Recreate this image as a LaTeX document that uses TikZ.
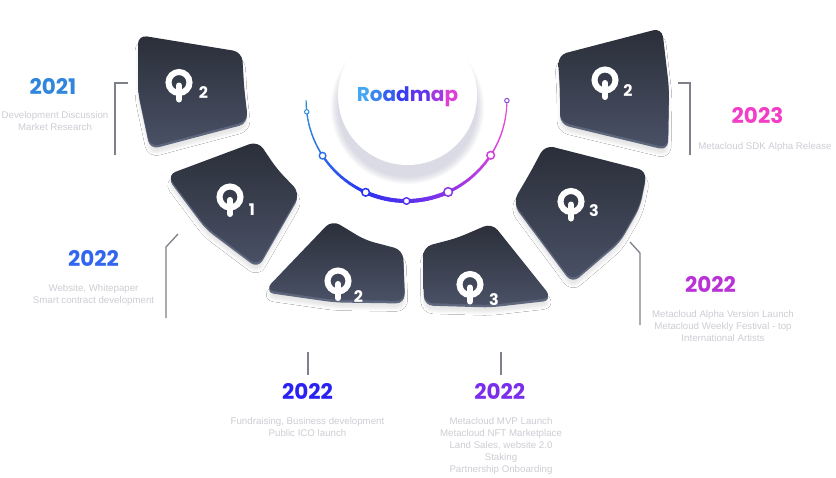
\documentclass[tikz,border=0pt]{standalone}
\usepackage{fontspec}
\setmainfont{Liberation Sans}
\newfontfamily\yearfont{Poppins}
\usetikzlibrary{shadows.blur}

\definecolor{tiletop}{HTML}{2A2E39}
\definecolor{tilemid}{HTML}{3A404F}
\definecolor{tilebot}{HTML}{4A5166}
\definecolor{rim}{HTML}{5E677D}
\definecolor{desctext}{HTML}{CDCED4}
\definecolor{brk}{HTML}{7E818A}
\definecolor{hubshade}{HTML}{6A6A9A}
\definecolor{yA}{HTML}{2F86DC}
\definecolor{yB}{HTML}{3366F0}
\definecolor{yC}{HTML}{2A22F2}
\definecolor{yD}{HTML}{7A2EEB}
\definecolor{yE}{HTML}{B932D6}
\definecolor{yF}{HTML}{F23DC6}
\definecolor{arcA}{HTML}{2B90D8}
\definecolor{arcB}{HTML}{2D6EEA}
\definecolor{arcC}{HTML}{2A34F0}
\definecolor{arcD}{HTML}{5530EE}
\definecolor{arcE}{HTML}{8A35E8}
\definecolor{arcF}{HTML}{D23FDA}
\definecolor{arcG}{HTML}{F04FCB}
\definecolor{arcEnd}{HTML}{8B47D6}
\definecolor{rmA}{HTML}{45A6F2}
\definecolor{rmB}{HTML}{3A86F0}
\definecolor{rmC}{HTML}{3560F0}
\definecolor{rmD}{HTML}{3A3CF0}
\definecolor{rmE}{HTML}{6034EC}
\definecolor{rmF}{HTML}{A23AE2}
\definecolor{rmG}{HTML}{DC40D6}

\tikzset{
  tileshape/.style={rounded corners=9pt, top color=tiletop, bottom color=tilebot, middle color=tilemid},
  tilerim/.style={rounded corners=9pt, fill=rim,
     blur shadow={shadow xshift=0pt, shadow yshift=-5pt, shadow blur radius=3pt, shadow opacity=10}},
  year/.style={font=\yearfont\bfseries\fontsize{21.5}{24}\selectfont, inner sep=0pt},
  desc/.style={font=\fontsize{9.7}{12}\selectfont, text=desctext, align=center, inner sep=0pt},
  brack/.style={draw=brk, line width=1.3pt},
  marker/.style={circle, fill=white, inner sep=0pt, draw},
  qdigit/.style={font=\yearfont\bfseries\fontsize{16}{18}\selectfont, text=white, inner sep=0pt},
}

\newcommand\tileA{(138,35) -- (138,91) -- (150,147) -- (248,121) -- (244,87) -- (242,52) -- cycle}
\newcommand\tileB{(167,175) -- (206,227) -- (258,266) -- (300,193) -- (277,169) -- (258,141) -- cycle}
\newcommand\tileC{(265,290) -- (335,300) -- (405,301) -- (403,250) -- (365,240) -- (332,220) -- cycle}
\newcommand\tileD{(424,303) -- (490,305) -- (552,298) -- (492,223) -- (457,238) -- (423,247) -- cycle}
\newcommand\tileE{(545,145) -- (647,171) -- (640,205) -- (620,240) -- (572,281) -- (513,202) -- (530,173) -- cycle}
\newcommand\tileF{(558,55) -- (662,28) -- (669,88) -- (668,148) -- (560,122) -- (560,88) -- cycle}

\newcommand\qglyph[6]{% ringx ringy digit digitx digity name
  \draw[white, line width=6pt] (#1,#2) circle (10.5pt);
  \draw[white, line width=6pt, line cap=round] (#1,#2+3) -- (#1,#2+17);
  \node[qdigit] (#6) at (#4,#5) {#3};
}

\newcommand\gradseg[6]{%
  \foreach \k in {0,...,11}{%
    \pgfmathsetmacro\angA{#1+(#2-#1)*\k/12}%
    \pgfmathsetmacro\angB{#1+(#2-#1)*(\k+1)/12}%
    \pgfmathtruncatemacro\pc{100-(\k+0.5)*100/12}%
    \pgfmathsetmacro\lw{#5+(#6-#5)*(\k+0.5)/12}%
    \draw[line width=\lw pt, color={#3!\pc!#4}, line cap=round]
      ({406.5+100.4*cos(\angA)},{100.6-100.4*sin(\angA)}) --
      ({406.5+100.4*cos(\angB)},{100.6-100.4*sin(\angB)});
  }%
}

\begin{document}
\begin{tikzpicture}[x=1pt,y=-1pt]
\useasboundingbox[fill=white] (0,0) rectangle (836,477);

% tiles: rim + body
\foreach \t in {\tileA,\tileB,\tileC,\tileD,\tileE,\tileF}{
  \path[tilerim, yshift=-2.5pt] \t;
  \path[tileshape] \t;
}

% Q glyphs
\qglyph{179}{82.5}{2}{203.5}{93}{qa}
\qglyph{230}{197}{1}{252}{210}{qb}
\qglyph{338}{281}{2}{358.5}{297}{qc}
\qglyph{470}{284.5}{3}{494}{300}{qd}
\qglyph{571}{201.5}{3}{594}{211}{qe}
\qglyph{605}{80}{2}{628}{91}{qf}

% hub soft shadow (below only) and hub circle
\foreach \i in {0,...,9}{
  \fill[hubshade, opacity=0.025] (407.5,107.5) circle ({69.5+\i*0.8});
}
\node[circle, fill=white, minimum size=139pt, inner sep=0pt] (hub) at (407.5,95.5) {};

% Roadmap title
\node[anchor=base, inner sep=0pt, font=\yearfont\bfseries\fontsize{20}{24}\selectfont] (title) at (407.5,101.7)
  {\color{rmA}R\color{rmB}o\color{rmC}a\color{rmD}d\color{rmE}m\color{rmF}a\color{rmG}p};

% gradient arc
\gradseg{180}{213.3}{arcA}{arcB}{1.2}{1.6}
\gradseg{213.3}{246}{arcB}{arcC}{2.2}{3.2}
\gradseg{246}{270}{arcC}{arcD}{4}{4}
\gradseg{270}{294.5}{arcD}{arcE}{4}{4}
\gradseg{294.5}{327}{arcE}{arcF}{3.2}{2.4}
\gradseg{327}{360}{arcF}{arcG}{1.5}{1.1}

% markers
\node[marker, draw=arcA, line width=1pt, minimum size=4.4pt] (m0) at ({406.5+100.4*cos(186.4)},{100.6-100.4*sin(186.4)}) {};
\node[marker, draw=arcB, line width=1.4pt, minimum size=6.6pt] (m1) at ({406.5+100.4*cos(213.3)},{100.6-100.4*sin(213.3)}) {};
\node[marker, draw=arcC, line width=1.5pt, minimum size=7.6pt] (m2) at ({406.5+100.4*cos(246)},{100.6-100.4*sin(246)}) {};
\node[marker, draw=arcD, line width=1.4pt, minimum size=6.6pt] (m3) at ({406.5+100.4*cos(270)},{100.6-100.4*sin(270)}) {};
\node[marker, draw=arcE, line width=1.5pt, minimum size=8.6pt] (m4) at ({406.5+100.4*cos(294.5)},{100.6-100.4*sin(294.5)}) {};
\node[marker, draw=arcF, line width=1.5pt, minimum size=7.6pt] (m5) at ({406.5+100.4*cos(327)},{100.6-100.4*sin(327)}) {};
\node[marker, draw=arcEnd, line width=1pt, minimum size=4.4pt] (m6) at ({406.5+100.4*cos(0)},{100.6-100.4*sin(0)}) {};

% bracket connectors
\coordinate (b1a) at (128,83); \coordinate (b1b) at (115,83); \coordinate (b1c) at (115,155);
\coordinate (b2a) at (178,234); \coordinate (b2b) at (166,247); \coordinate (b2c) at (166,318);
\coordinate (b3a) at (308,352); \coordinate (b3b) at (308,375);
\coordinate (b4a) at (501,352); \coordinate (b4b) at (501,375);
\coordinate (b5a) at (630,242); \coordinate (b5b) at (640,253); \coordinate (b5c) at (640,325);
\coordinate (b6a) at (678,83); \coordinate (b6b) at (690,83); \coordinate (b6c) at (690,155);
\draw[brack] (b1a) -- (b1b) -- (b1c);
\draw[brack] (b2a) -- (b2b) -- (b2c);
\draw[brack] (b3a) -- (b3b);
\draw[brack] (b4a) -- (b4b);
\draw[brack] (b5a) -- (b5b) -- (b5c);
\draw[brack] (b6a) -- (b6b) -- (b6c);

% years and descriptions
\node[year, text=yA] (y1) at (53,86) {2021};
\node[desc] (d1) at (55,121) {Development Discussion\\Market Research};
\node[year, text=yB] (y2) at (93.5,258.5) {2022};
\node[desc] (d2) at (93.5,294.5) {Website, Whitepaper\\Smart contract development};
\node[year, text=yC] (y3) at (307.5,391.5) {2022};
\node[desc] (d3) at (307.5,427.5) {Fundraising, Business development\\Public ICO launch};
\node[year, text=yD] (y4) at (499.7,391.5) {2022};
\node[desc] (d4) at (501,445.5) {Metacloud MVP Launch\\Metacloud NFT Marketplace\\Land Sales, website 2.0\\Staking\\Partnership Onboarding};
\node[year, text=yE] (y5) at (710.5,284.5) {2022};
\node[desc] (d5) at (723,326.5) {Metacloud Alpha Version Launch\\Metacloud Weekly Festival - top\\International Artists};
\node[year, text=yF] (y6) at (757.5,116) {2023};
\node[desc] (d6) at (765,146.5) {Metacloud SDK Alpha Release};
\end{tikzpicture}
\end{document}
